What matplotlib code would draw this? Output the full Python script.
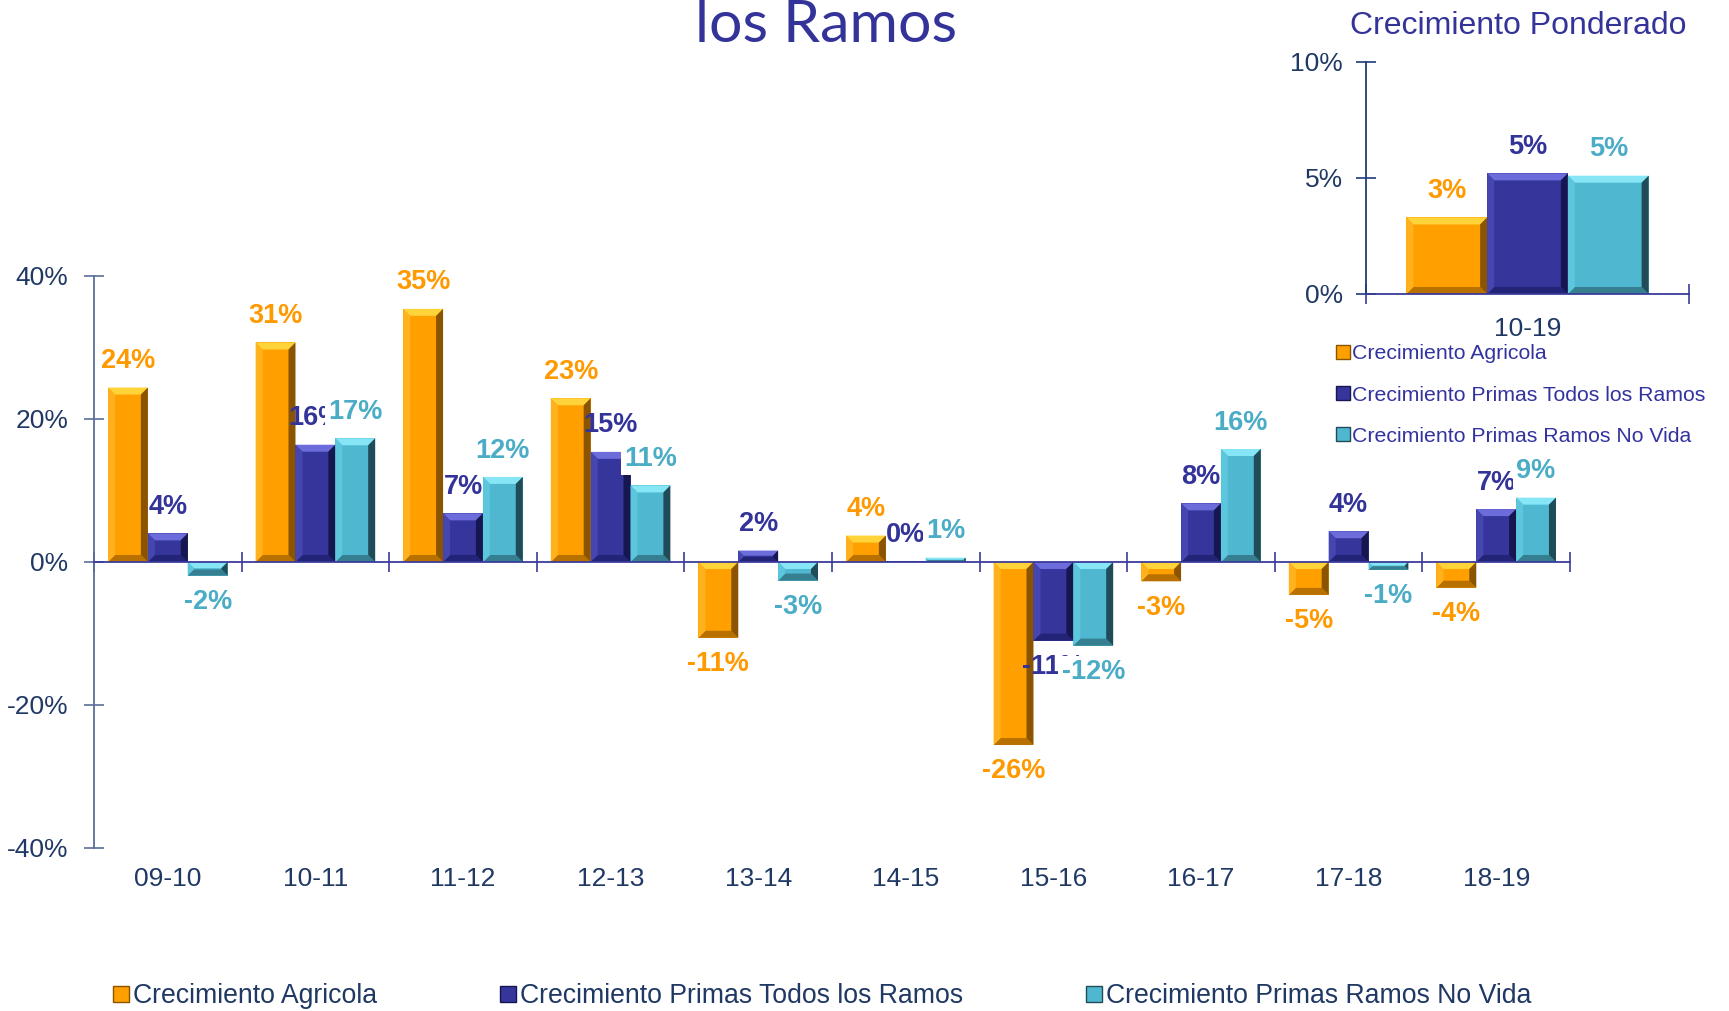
import matplotlib
matplotlib.use('Agg')
import matplotlib.pyplot as plt
import numpy as np
from matplotlib.patches import Polygon
from matplotlib.lines import Line2D
import matplotlib.transforms as mtransforms

plt.rcParams['font.family'] = ['Liberation Sans', 'DejaVu Sans']

# data
periods = ['09-10', '10-11', '11-12', '12-13', '13-14',
           '14-15', '15-16', '16-17', '17-18', '18-19']
agricola = [24.4, 30.7, 35.4, 22.9, -10.6, 3.7, -25.6, -2.7, -4.6, -3.6]
todos_ramos = [4.0, 16.4, 6.8, 15.4, 1.6, 0.1, -11.0, 8.2, 4.3, 7.4]
no_vida = [-1.9, 17.3, 11.9, 10.7, -2.6, 0.6, -11.7, 15.8, -1.1, 9.0]

ponderado_label = '10-19'
ponderado = [3.3, 5.2, 5.1]  # agricola, todos los ramos, no vida

series_names = ['Crecimiento Agricola',
                'Crecimiento Primas Todos los Ramos',
                'Crecimiento Primas Ramos No Vida']

BASE = ['#FFA000', '#35359C', '#4FB7CF']
LABEL_COLORS = ['#FF9900', '#333399', '#4BACC6']
# highlight, left, right, bottom shades for the bevel look
SHADES = [
    ('#FFD43A', '#FFB21E', '#8A5400', '#B87000'),
    ('#6C6CDA', '#4646B0', '#161650', '#232378'),
    ('#86E6F6', '#5CC6DC', '#1F4C58', '#357F90'),
]
NAVY = '#1F3864'


def bevel(ax, patches, shades, depth_px=7):
    """Draw a simple bevelled frame over each bar."""
    inv = ax.transData.inverted()
    hi, left, right, bottom = shades
    for p in patches:
        x0, w, y, h = p.get_x(), p.get_width(), p.get_y(), p.get_height()
        px0, py0 = ax.transData.transform((x0, min(y, y + h)))
        px1, py1 = ax.transData.transform((x0 + w, max(y, y + h)))
        d = min(depth_px, (py1 - py0) / 2.2, (px1 - px0) / 2.2)
        if d <= 0.5:
            continue
        polys = [
            ([(px0, py1), (px1, py1), (px1 - d, py1 - d), (px0 + d, py1 - d)], hi),
            ([(px0, py0), (px1, py0), (px1 - d, py0 + d), (px0 + d, py0 + d)], bottom),
            ([(px0, py0), (px0, py1), (px0 + d, py1 - d), (px0 + d, py0 + d)], left),
            ([(px1, py0), (px1, py1), (px1 - d, py1 - d), (px1 - d, py0 + d)], right),
        ]
        for pts, c in polys:
            ax.add_patch(Polygon(inv.transform(np.array(pts)), closed=True,
                                 facecolor=c, edgecolor='none', zorder=3))


def bar_labels(ax, xs, vals, color, z, boxed, offset=19, size=19.5):
    for x, v in zip(xs, vals):
        off = offset if v >= 0 else -offset
        box = None
        if boxed:
            box = dict(boxstyle='square,pad=0.12', facecolor='white', edgecolor='none')
        ax.annotate(f'{v:.0f}%', (x, v), xytext=(0, off), textcoords='offset points',
                    ha='center', va='center', fontsize=size, fontweight='bold',
                    color=color, zorder=z, bbox=box)


fig = plt.figure(figsize=(17.29, 10.11), dpi=100)

# ---- main chart ----
ax = fig.add_axes([0.05437, 0.16123, 0.85367, 0.56578])
ax.set_xlim(-0.5, len(periods) - 0.5)
ax.set_ylim(-40, 40)

x = np.arange(len(periods))
width = 0.27
offsets = [-width, 0, width]
all_series = [agricola, todos_ramos, no_vida]
for k, vals in enumerate(all_series):
    bars = ax.bar(x + offsets[k], vals, width, color=BASE[k], zorder=2,
                  linewidth=0)
    bevel(ax, bars.patches, SHADES[k])
for k, vals in enumerate(all_series):
    bar_labels(ax, x + offsets[k], vals, LABEL_COLORS[k], 5 + k, boxed=(k == 2))

for s in ['top', 'right']:
    ax.spines[s].set_visible(False)
ax.spines['bottom'].set_position(('data', 0))
ax.spines['bottom'].set_color('#3B3B9B')
ax.spines['bottom'].set_linewidth(1.3)
ax.spines['bottom'].set_zorder(4)
ax.spines['left'].set_color('#5B6E99')
ax.spines['left'].set_linewidth(1.3)
ax.spines['left'].set_bounds(-40, 40)

ax.set_yticks([-40, -20, 0, 20, 40])
ax.set_yticklabels(['-40%', '-20%', '0%', '20%', '40%'])
ax.tick_params(axis='y', direction='inout', length=15, width=1.2,
               color='#5B6E99', labelsize=19, labelcolor=NAVY, pad=11)
ax.set_xticks(np.arange(-0.5, len(periods)))
ax.set_xticklabels([])
ax.tick_params(axis='x', direction='inout', length=14, width=1.2, color='#3B3B9B')

trans = mtransforms.blended_transform_factory(ax.transData, ax.transAxes)
for i, p in enumerate(periods):
    ax.text(i, -0.054, p, transform=trans, ha='center', va='center',
            fontsize=19, color=NAVY)

# title (first line falls outside the picture)
fig.text(0.478, 0.958, 'los Ramos', ha='center', va='baseline',
         fontsize=42.5, color='#333399', family=['Lato', 'DejaVu Sans'])

# bottom legend
handles = [Line2D([], [], marker='s', linestyle='none', markersize=12,
                  markerfacecolor=BASE[k], markeredgecolor=SHADES[k][2])
           for k in range(3)]
fig.legend(handles, series_names, loc='center left',
           bbox_to_anchor=(0.0655, 0.015), ncol=3, frameon=False,
           fontsize=19.2, labelcolor=NAVY, handlelength=0.6, handletextpad=0.15,
           columnspacing=4.6, borderpad=0, borderaxespad=0)

# ---- inset: weighted growth ----
ax2 = fig.add_axes([0.79005, 0.70920, 0.18681, 0.22948])
ax2.set_xlim(-0.5, 0.5)
ax2.set_ylim(0, 10)
w2 = 0.25
for k, v in enumerate(ponderado):
    bars = ax2.bar([(k - 1) * w2], [v], w2, color=BASE[k], zorder=2, linewidth=0)
    bevel(ax2, bars.patches, SHADES[k])
    bar_labels(ax2, [(k - 1) * w2], [v], LABEL_COLORS[k], 5 + k, boxed=(k == 2))

for s in ['top', 'right']:
    ax2.spines[s].set_visible(False)
ax2.spines['bottom'].set_color('#3B3B9B')
ax2.spines['bottom'].set_linewidth(1.3)
ax2.spines['bottom'].set_zorder(4)
ax2.spines['left'].set_color('#1F3B7A')
ax2.spines['left'].set_linewidth(1.3)
ax2.set_yticks([0, 5, 10])
ax2.set_yticklabels(['0%', '5%', '10%'])
ax2.tick_params(axis='y', direction='inout', length=15, width=1.2,
                color='#1F3B7A', labelsize=19, labelcolor=NAVY, pad=9)
ax2.set_xticks([-0.5, 0.5])
ax2.set_xticklabels([])
ax2.tick_params(axis='x', direction='inout', length=14, width=1.2, color='#3B3B9B')
ax2.text(0.5, -0.15, ponderado_label, transform=ax2.transAxes, ha='center',
         va='center', fontsize=19, color=NAVY)
ax2.set_title('Crecimiento Ponderado', fontsize=23, color='#333399', pad=0,
              x=0.47, y=1.12)

fig.legend(handles, series_names, loc='upper left',
           bbox_to_anchor=(0.7735, 0.6595), ncol=1, frameon=False,
           fontsize=15.3, labelcolor='#3333A0', handlelength=0.5, handletextpad=0.2,
           labelspacing=1.05, borderpad=0, borderaxespad=0, markerscale=0.8)

fig.savefig('out.png', dpi=100)
